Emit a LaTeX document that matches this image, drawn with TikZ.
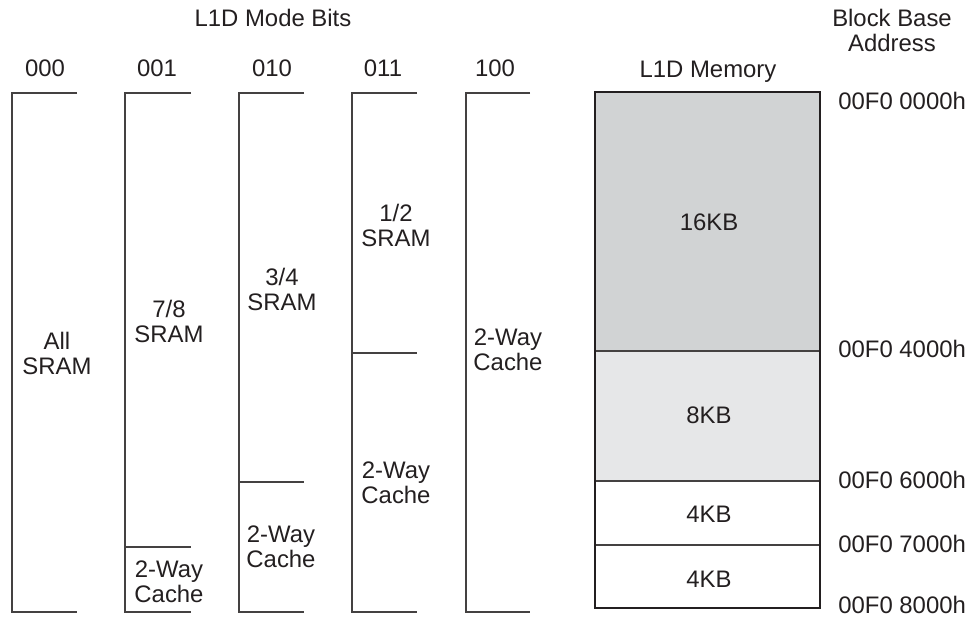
\documentclass[tikz,border=0pt]{standalone}
\usepackage{fontspec}
\setmainfont{Liberation Sans}
\usetikzlibrary{positioning}
\definecolor{mbink}{HTML}{231F20}
\definecolor{mbdark}{HTML}{D1D3D4}
\definecolor{mblight}{HTML}{E6E7E8}

\begin{document}
\begin{tikzpicture}[x=0.02cm,y=-0.02cm,
    lbl/.style={font=\fontsize{13.6}{14.2}\selectfont,text=mbink,align=center,inner sep=0pt},
    brk/.style={draw=mbink!85,line width=0.6pt}]
  \useasboundingbox (0,0) rectangle (969,617);
  % headings
  \node[lbl,anchor=base] (modebits) at (273,27) {L1D Mode Bits};
  \node[lbl] (baseaddr) at (892,30) {Block Base\\Address};
  \node[lbl,anchor=base] (hdrA) at (45,77) {000};
  \node[lbl,anchor=base] (hdrB) at (157,77) {001};
  \node[lbl,anchor=base] (hdrC) at (272,77) {010};
  \node[lbl,anchor=base] (hdrD) at (383,77) {011};
  \node[lbl,anchor=base] (hdrE) at (495,77) {100};
  \node[lbl,anchor=base] (hdrmem) at (708,78) {L1D Memory};
  % mode bit columns
  \foreach \x/\w in {12/65,125/66,239/65,352/65,466/64}
    \draw[brk] (\x+\w,93) -- (\x,93) -- (\x,612) -- (\x+\w,612);
  \draw[brk] (125,547) -- (191,547);
  \draw[brk] (239,482) -- (304,482);
  \draw[brk] (352,353) -- (417,353);
  \node[lbl] (allsram) at (57,353) {All\\SRAM};
  \node[lbl] (sramB) at (169,321) {7/8\\SRAM};
  \node[lbl] (cacheB) at (169,582) {2-Way\\Cache};
  \node[lbl] (sramC) at (282,289) {3/4\\SRAM};
  \node[lbl] (cacheC) at (281,547) {2-Way\\Cache};
  \node[lbl] (sramD) at (396,225) {1/2\\SRAM};
  \node[lbl] (cacheD) at (396,483) {2-Way\\Cache};
  \node[lbl] (cacheE) at (508,350) {2-Way\\Cache};
  % L1D memory
  \fill[mbdark] (595,92) rectangle (820,351);
  \fill[mblight] (595,351) rectangle (820,481);
  \draw[brk] (595,351) -- (820,351);
  \draw[brk] (595,481) -- (820,481);
  \draw[brk] (595,545) -- (820,545);
  \draw[draw=mbink,line width=1.5pt] (595,92) rectangle (820,608);
  \node[lbl,anchor=base] (blkA) at (709,231) {16KB};
  \node[lbl,anchor=base] (blkB) at (709,424) {8KB};
  \node[lbl,anchor=base] (blkC) at (709,522) {4KB};
  \node[lbl,anchor=base] (blkD) at (709,587) {4KB};
  % base addresses
  \node[lbl,anchor=base west] (addrA) at (838,110) {00F0 0000h};
  \node[lbl,anchor=base west] (addrB) at (838,358) {00F0 4000h};
  \node[lbl,anchor=base west] (addrC) at (838,488) {00F0 6000h};
  \node[lbl,anchor=base west] (addrD) at (838,552) {00F0 7000h};
  \node[lbl,anchor=base west] (addrE) at (838,613) {00F0 8000h};
\end{tikzpicture}
\end{document}
